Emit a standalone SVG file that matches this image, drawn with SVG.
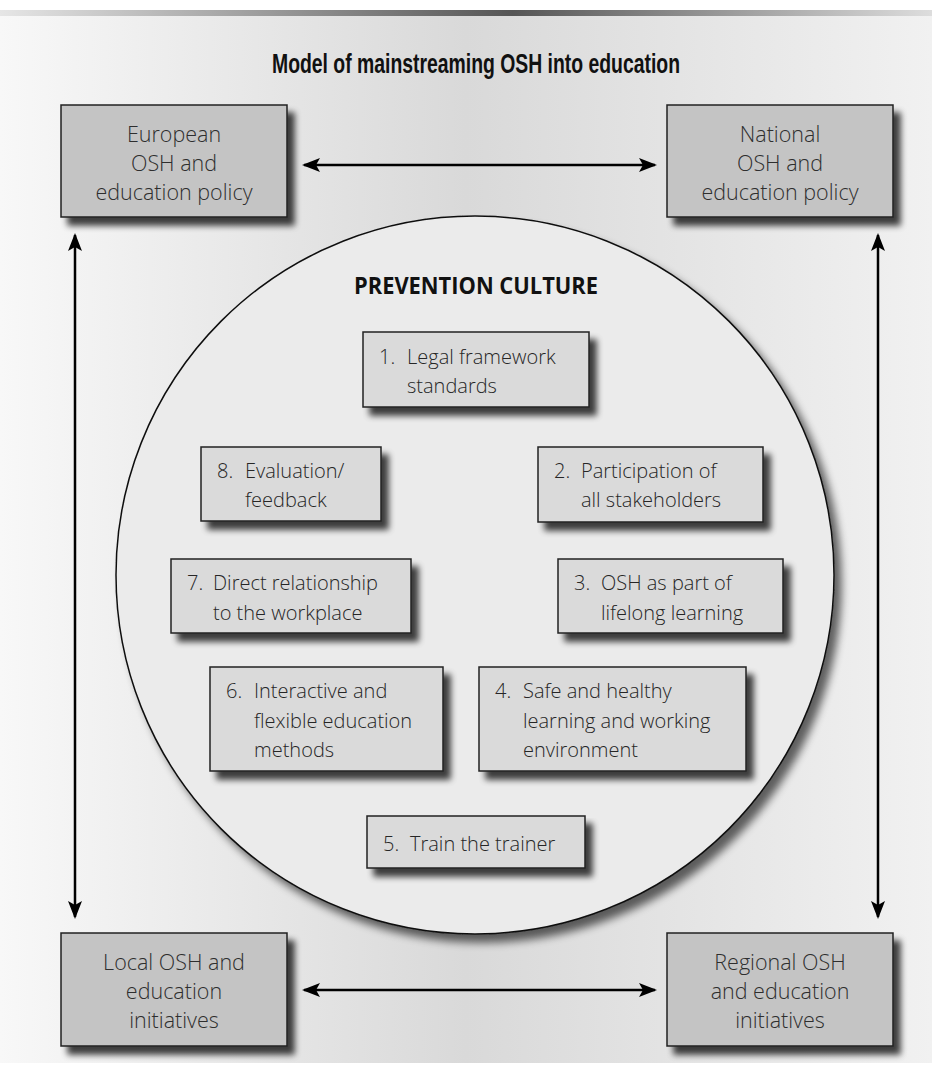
<svg xmlns="http://www.w3.org/2000/svg" width="932" height="1084" viewBox="0 0 932 1084">
<defs>
<linearGradient id="bg" x1="0" y1="0" x2="1" y2="0">
<stop offset="0" stop-color="#f8f8f8"/>
<stop offset="0.5" stop-color="#d9d9d9"/>
<stop offset="1" stop-color="#f1f1f1"/>
</linearGradient>
<linearGradient id="bar" x1="0" y1="0" x2="1" y2="0">
<stop offset="0" stop-color="#e6e6e6"/>
<stop offset="0.55" stop-color="#555555"/>
<stop offset="1" stop-color="#dddddd"/>
</linearGradient>
<filter id="sh" x="-10%" y="-10%" width="130%" height="140%">
<feGaussianBlur in="SourceAlpha" stdDeviation="3"/>
<feOffset dx="7" dy="8" result="b"/>
<feComponentTransfer><feFuncA type="linear" slope="0.75"/></feComponentTransfer>
<feMerge><feMergeNode/><feMergeNode in="SourceGraphic"/></feMerge>
</filter>
<filter id="csh" x="-10%" y="-10%" width="125%" height="125%">
<feGaussianBlur in="SourceAlpha" stdDeviation="4"/>
<feOffset dx="7" dy="8"/>
<feComponentTransfer><feFuncA type="linear" slope="0.6"/></feComponentTransfer>
<feMerge><feMergeNode/><feMergeNode in="SourceGraphic"/></feMerge>
</filter>
<marker id="ah" viewBox="0 0 18 14" refX="16" refY="7" markerWidth="18" markerHeight="14" markerUnits="userSpaceOnUse" orient="auto-start-reverse">
<path d="M18,7 L0,0 L4,7 L0,14 Z" fill="#000"/>
</marker>
</defs>
<style>
.outer{fill:#c4c4c4;stroke:#222;stroke-width:1.5}
.inner{fill:#dadada;stroke:#222;stroke-width:1.5}
.ot{font-family:"Open Sans","Liberation Sans",sans-serif;font-weight:300;font-size:21.5px;fill:#2e2e2e;text-anchor:middle}
.it{font-family:"Open Sans","Liberation Sans",sans-serif;font-weight:300;font-size:20px;fill:#262626}
.con{stroke:#000;stroke-width:2.5;fill:none;marker-start:url(#ah);marker-end:url(#ah)}
</style>
<rect x="0" y="0" width="932" height="1084" fill="#ffffff"/>
<rect x="0" y="16" width="932" height="1047" fill="url(#bg)"/>
<rect x="0" y="10" width="932" height="6" fill="url(#bar)"/>
<text x="272" y="73" font-family="Liberation Sans, Arial, sans-serif" font-weight="bold" font-size="28" fill="#111" textLength="408" lengthAdjust="spacingAndGlyphs">Model of mainstreaming OSH into education</text>

<g id="circle">
<circle cx="475" cy="575" r="359" fill="#ebebeb" stroke="#111" stroke-width="1.5" filter="url(#csh)"/>
<text x="476" y="294" font-family="Open Sans, Liberation Sans, sans-serif" font-weight="bold" font-size="22.5" fill="#111" text-anchor="middle" textLength="244" lengthAdjust="spacingAndGlyphs">PREVENTION CULTURE</text>
</g>

<g id="connectors">
<line class="con" x1="304" y1="165" x2="655" y2="165"/>
<line class="con" x1="304" y1="990" x2="655" y2="990"/>
<line class="con" x1="75" y1="235" x2="75" y2="917"/>
<line class="con" x1="878" y1="235" x2="878" y2="917"/>
</g>

<g id="european">
<rect class="outer" x="61" y="105" width="226" height="112" filter="url(#sh)"/>
<text class="ot" x="174" y="142">European</text>
<text class="ot" x="174" y="171">OSH and</text>
<text class="ot" x="174" y="200">education policy</text>
</g>
<g id="national">
<rect class="outer" x="667" y="105" width="226" height="112" filter="url(#sh)"/>
<text class="ot" x="780" y="142">National</text>
<text class="ot" x="780" y="171">OSH and</text>
<text class="ot" x="780" y="200">education policy</text>
</g>
<g id="local">
<rect class="outer" x="61" y="933" width="226" height="113" filter="url(#sh)"/>
<text class="ot" x="174" y="970">Local OSH and</text>
<text class="ot" x="174" y="999">education</text>
<text class="ot" x="174" y="1028">initiatives</text>
</g>
<g id="regional">
<rect class="outer" x="667" y="933" width="226" height="113" filter="url(#sh)"/>
<text class="ot" x="780" y="970">Regional OSH</text>
<text class="ot" x="780" y="999">and education</text>
<text class="ot" x="780" y="1028">initiatives</text>
</g>

<g id="item1">
<rect class="inner" x="363" y="332" width="226" height="75" filter="url(#sh)"/>
<text class="it" x="379" y="364">1.</text>
<text class="it" x="407" y="364">Legal framework</text>
<text class="it" x="407" y="393">standards</text>
</g>
<g id="item2">
<rect class="inner" x="538" y="447" width="225" height="75" filter="url(#sh)"/>
<text class="it" x="554" y="478">2.</text>
<text class="it" x="581" y="478">Participation of</text>
<text class="it" x="581" y="507">all stakeholders</text>
</g>
<g id="item3">
<rect class="inner" x="558" y="559" width="225" height="74" filter="url(#sh)"/>
<text class="it" x="574" y="590">3.</text>
<text class="it" x="601" y="590">OSH as part of</text>
<text class="it" x="601" y="620">lifelong learning</text>
</g>
<g id="item4">
<rect class="inner" x="479" y="667" width="267" height="104" filter="url(#sh)"/>
<text class="it" x="495" y="698">4.</text>
<text class="it" x="523" y="698">Safe and healthy</text>
<text class="it" x="523" y="728">learning and working</text>
<text class="it" x="523" y="757">environment</text>
</g>
<g id="item5">
<rect class="inner" x="367" y="816" width="218" height="52" filter="url(#sh)"/>
<text class="it" x="383" y="851">5.</text>
<text class="it" x="410" y="851">Train the trainer</text>
</g>
<g id="item6">
<rect class="inner" x="210" y="667" width="233" height="104" filter="url(#sh)"/>
<text class="it" x="226" y="698">6.</text>
<text class="it" x="254" y="698">Interactive and</text>
<text class="it" x="254" y="728">flexible education</text>
<text class="it" x="254" y="757">methods</text>
</g>
<g id="item7">
<rect class="inner" x="171" y="559" width="240" height="74" filter="url(#sh)"/>
<text class="it" x="187" y="590">7.</text>
<text class="it" x="213" y="590">Direct relationship</text>
<text class="it" x="213" y="620">to the workplace</text>
</g>
<g id="item8">
<rect class="inner" x="201" y="447" width="180" height="74" filter="url(#sh)"/>
<text class="it" x="217" y="478">8.</text>
<text class="it" x="245" y="478">Evaluation/</text>
<text class="it" x="245" y="507">feedback</text>
</g>
</svg>
